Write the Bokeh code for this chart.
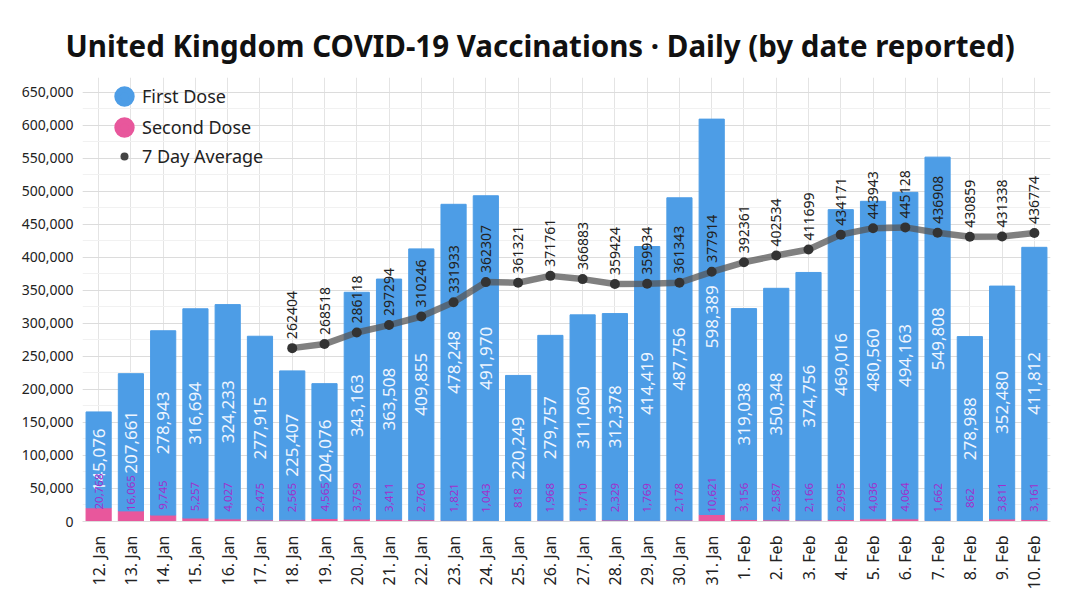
from math import pi
from bokeh.plotting import figure
from bokeh.models import (ColumnDataSource, Range1d, SingleIntervalTicker,
                          NumeralTickFormatter, Legend, LegendItem)
from bokeh.core.properties import value
from bokeh.embed import file_html
from bokeh.resources import INLINE

dates = ["12. Jan", "13. Jan", "14. Jan", "15. Jan", "16. Jan", "17. Jan", "18. Jan",
         "19. Jan", "20. Jan", "21. Jan", "22. Jan", "23. Jan", "24. Jan", "25. Jan",
         "26. Jan", "27. Jan", "28. Jan", "29. Jan", "30. Jan", "31. Jan",
         "1. Feb", "2. Feb", "3. Feb", "4. Feb", "5. Feb", "6. Feb", "7. Feb",
         "8. Feb", "9. Feb", "10. Feb"]
first_dose = [145076, 207661, 278943, 316694, 324233, 277915, 225407, 204076, 343163,
              363508, 409855, 478248, 491970, 220249, 279757, 311060, 312378, 414419,
              487756, 598389, 319038, 350348, 374756, 469016, 480560, 494163, 549808,
              278988, 352480, 411812]
second_dose = [20768, 16065, 9745, 5257, 4027, 2475, 2565, 4565, 3759, 3411, 2760, 1821,
               1043, 818, 1968, 1710, 2329, 1769, 2178, 10621, 3156, 2587, 2166, 2995,
               4036, 4064, 1662, 862, 3811, 3161]
avg_dates = dates[6:]
avg7 = [262404, 268518, 286118, 297294, 310246, 331933, 362307, 361321, 371761, 366883,
        359424, 359934, 361343, 377914, 392361, 402534, 411699, 434171, 443943, 445128,
        436908, 430859, 431338, 436774]

BLUE = "#4d9de6"
PINK = "#e8579c"
FONT = "Noto Sans"

src = ColumnDataSource(dict(
    date=dates, first=first_dose, second=second_dose,
    first_lbl=[f"{v:,}" for v in first_dose],
    second_lbl=[f"{v:,}" for v in second_dose],
    first_mid=[s + f / 2 for f, s in zip(first_dose, second_dose)],
    second_pos=[35000 + s / 2 for s in second_dose],
))
avg_src = ColumnDataSource(dict(date=avg_dates, avg=avg7, lbl=[str(v) for v in avg7]))

p = figure(width=1080, height=608, x_range=dates, y_range=Range1d(0, 672000),
           output_backend="svg", toolbar_location=None,
           min_border_left=82, min_border_right=30, min_border_top=77, min_border_bottom=87,
           title="United Kingdom COVID-19 Vaccinations · Daily (by date reported)")
p.title.text_font = FONT
p.title.text_font_size = "29.5px"
p.title.text_font_style = "bold"
p.title.text_color = "#111111"
p.title.align = "left"
p.title.offset = -17
p.title.standoff = 23
p.outline_line_color = None

p.vbar_stack(["second", "first"], x="date", width=0.78, color=[PINK, BLUE], source=src)

p.text(x="date", y="first_mid", text="first_lbl", source=src, angle=pi / 2,
       text_align="center", text_baseline="middle", text_color="#eef5ff",
       text_font=value(FONT), text_font_size="17px")
p.text(x="date", y="second_pos", text="second_lbl", source=src, angle=pi / 2,
       text_align="center", text_baseline="middle", text_color="#a030cc",
       text_font=value(FONT), text_font_size="11.5px")

p.line(x="date", y="avg", source=avg_src, line_width=6.5, line_color="#555555", line_alpha=0.75)
p.scatter(x="date", y="avg", source=avg_src, size=10, fill_color="#333333", line_color=None)
p.text(x="date", y="avg", text="lbl", source=avg_src, angle=pi / 2, y_offset=-9,
       text_align="left", text_baseline="middle", text_color="#222222",
       text_font=value(FONT), text_font_size="14px")

# axes
p.yaxis.ticker = SingleIntervalTicker(interval=50000, num_minor_ticks=2)
p.yaxis.formatter = NumeralTickFormatter(format="0,0")
p.yaxis.major_label_text_font = FONT
p.yaxis.major_label_text_font_size = "14px"
p.yaxis.major_label_text_color = "#222222"
p.yaxis.axis_line_color = None
p.yaxis.major_tick_line_color = None
p.yaxis.minor_tick_line_color = None
p.yaxis.major_label_standoff = 3

p.xaxis.major_label_orientation = pi / 2
p.xaxis.major_label_text_font = FONT
p.xaxis.major_label_text_font_size = "16px"
p.xaxis.major_label_text_color = "#222222"
p.xaxis.axis_line_color = "#dddddd"
p.xaxis.major_tick_line_color = None
p.xaxis.major_label_standoff = 8

p.xgrid.grid_line_color = "#e4e4e4"
p.ygrid.grid_line_color = "#dcdcdc"
p.ygrid.minor_grid_line_color = "#f1f1f1"

# legend (one per entry to control marker size); hidden points with NaN y
nan = float("nan")
r_fd = p.scatter(x=[dates[0]], y=[nan], marker="circle", size=20, fill_color=BLUE,
                 line_color=BLUE, line_width=6)
r_sd = p.scatter(x=[dates[0]], y=[nan], marker="circle", size=20, fill_color=PINK,
                 line_color=PINK, line_width=6)
r_av = p.scatter(x=[dates[0]], y=[nan], marker="circle", size=8, fill_color="#444444",
                 line_color=None)

def mk_legend(label, rend, loc, g, standoff):
    lg = Legend(items=[LegendItem(label=label, renderers=[rend])], location=loc,
                glyph_width=g, glyph_height=g, padding=0, margin=0, spacing=0,
                label_standoff=standoff, border_line_color=None,
                background_fill_alpha=0, label_text_font=FONT,
                label_text_font_size="18px", label_text_color="#222222")
    p.add_layout(lg)

mk_legend("First Dose", r_fd, (24, 407), 36, 0)
mk_legend("Second Dose", r_sd, (24, 376), 36, 0)
mk_legend("7 Day Average", r_av, (32, 353), 20, 8)

open("out.html", "w").write(file_html(p, INLINE))
